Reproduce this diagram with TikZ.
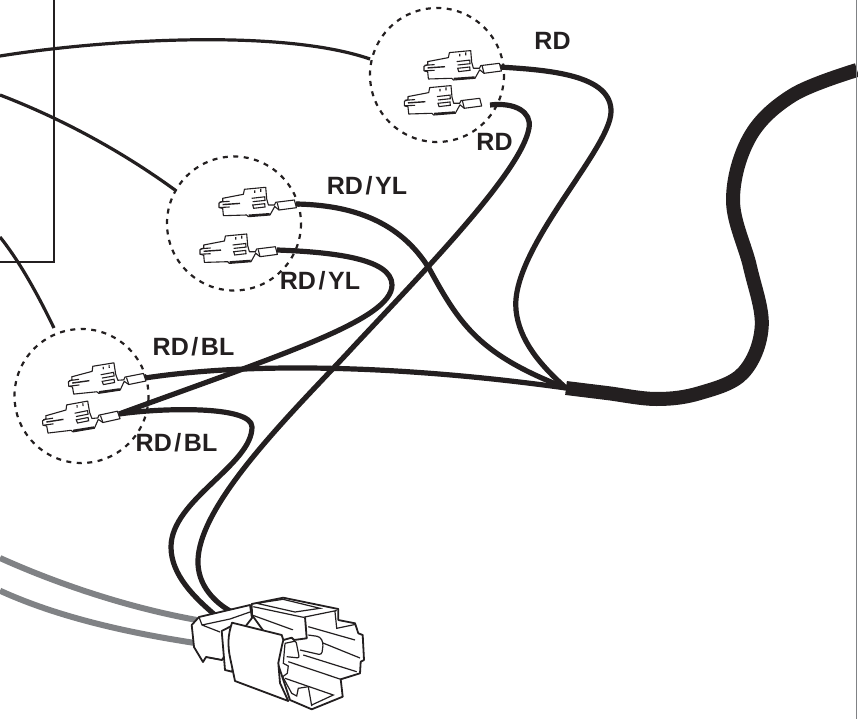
\documentclass[tikz,border=0pt]{standalone}
\usepackage{fontspec}
\setmainfont{Liberation Sans}
\definecolor{ink}{HTML}{231F20}
\definecolor{greywire}{HTML}{808285}
\newcommand\lblslash{\kern2.6pt/\kern2.6pt}
\tikzset{
  wire/.style={draw=ink, line width=5.2pt, line cap=butt},
  leader/.style={draw=ink, line width=3.2pt},
  greyline/.style={draw=greywire, line width=6pt},
  zoomring/.style={draw=ink, line width=2.2pt, dash pattern=on 5pt off 5.5pt},
  label/.style={font=\bfseries\fontsize{25}{27}\selectfont, text=ink, inner sep=0pt},
  body/.style={draw=ink, line width=1.8pt, fill=white, line join=round},
  detail/.style={draw=ink, line width=1.2pt},
  terminal/.pic={
    \draw[ink, line width=1.1pt, fill=white, line join=round]
      (-74,-5.7) -- (-53.3,-9.7) -- (-52.3,-14.7) -- (-31,-16.7) -- (-30,-5) -- (-28.3,1) -- (-22.3,1)
      -- (-21,-1.7) -- (-2.3,-4) -- (-.3,3.7) -- (-17.7,6) -- (-22,2.5) -- (-26.7,11) -- (-48.3,12.7)
      -- (-50,11) -- (-73.3,11.7) -- (-74,4.5) -- (-77.7,3.5) -- (-77.7,-1) -- (-74,-2.7) -- cycle;
    \draw[ink, line width=1.1pt] (-45,-5.7) -- (-32,-7.2) -- (-31.7,-3.6) -- (-44,-2.3);
    \draw[ink, line width=1.1pt] (-44,1) -- (-32,-.3) -- (-31.7,3) -- (-43,4.3) -- cycle;
    \draw[ink, line width=1.1pt] (-77,-2) -- (-67,-2.7) (-77,3.5) -- (-67,3);
    \draw[ink, line width=1.4pt] (-74,.6) -- (-56.7,-.6);
    \draw[ink, line width=2pt] (-48,11.5) -- (-27,10);
    \draw[ink, line width=1.1pt] (-17.7,6) -- (-19.5,-1.2) (-42,-11) -- (-42,-13.5) (-36,-12) -- (-36,-15);
  }
}

\begin{document}
\begin{tikzpicture}[x=1pt, y=-1pt]
  \useasboundingbox (0,0) rectangle (858,719);

  % thin frame and page edge
  \draw[ink, line width=1.4pt] (0,262) -- (54,262) -- (54,0);

  % leaders to the rings
  \draw[leader] (0,56) .. controls (100,40) and (280,28) .. (370,59);
  \draw[leader] (0,95) .. controls (60,118) and (120,150) .. (175,190);
  \draw[leader] (0,237) .. controls (20,262) and (38,295) .. (54,328);

  % grey pair
  \draw[greyline] (0,558) .. controls (60,585) and (130,608) .. (197,620);
  \draw[greyline] (0,590.7) .. controls (60,618) and (130,633) .. (195,643);

  % rings
  \draw[zoomring] (437,75) circle (67);
  \draw[zoomring] (234,223.5) circle (67);
  \draw[zoomring] (81.5,396) circle (67);

  % crimp points
  \coordinate (rdA) at (499,67);
  \coordinate (rdB) at (490,105);
  \coordinate (ylA) at (296,204);
  \coordinate (ylB) at (277,250);
  \coordinate (blA) at (145,378);
  \coordinate (blB) at (119,414);
  \coordinate (merge) at (566,388);

  % wires
  \draw[wire] (rdA) .. controls (550,70) and (612,75) .. (611,112) .. controls (610,150) and (510,250) .. (516,310) .. controls (519,340) and (540,365) .. (merge);
  \draw[wire] (ylA) .. controls (350,205) and (400,220) .. (430,270) .. controls (460,325) and (480,355) .. (merge);
  \draw[wire] (blA) .. controls (250,362) and (400,365) .. (merge);
  \draw[wire] (ylB) .. controls (330,252) and (392,258) .. (392,285) .. controls (392,320) and (280,355) .. (blB);
  \draw[wire] (rdB) .. controls (515,102) and (532,112) .. (529,128) .. controls (522,170) and (430,265) .. (355,345) .. controls (300,405) and (200,500) .. (198,560) .. controls (197,585) and (215,603) .. (232,612);
  \draw[wire] (blB) .. controls (160,408) and (252,405) .. (252,427) .. controls (252,465) and (171,500) .. (171,547) .. controls (171,575) and (195,598) .. (215,615);

  % harness
  \draw[draw=ink, line width=14pt] plot[smooth, tension=.6] coordinates {(merge) (606.7,393) (656.7,399) (700,393) (743,373) (761.7,326.7) (750,266.7) (733,200) (750,136.7) (793,95) (857,70)};
  % page edge
  \draw[greywire, line width=1.5pt] (856.7,0) -- (856.7,719);

  % terminals
  \pic at (501.7,67.3) {terminal};
  \pic at (482,102.3) {terminal};
  \pic at (296.7,204) {terminal};
  \pic at (277.7,250.7) {terminal};
  \pic[rotate=4] at (146,377.3) {terminal};
  \pic[rotate=5] at (120,415) {terminal};

  % plug
  \draw[body] (199,617) -- (250,605) -- (252,618) -- (235,640) -- (222,660) -- (206,657) -- (203,662) -- (194,647) -- (191.7,625) -- cycle;
  \draw[detail] (199,617) -- (202,625) -- (220,632) (202,625) -- (230,619) -- (250,612) (206,657) -- (222,660);
  \draw[body] (251.7,604) -- (283.3,597.7) -- (338.3,609) -- (338.3,620) -- (355,623.3) -- (358.3,633.3) -- (362.7,635) -- (364,660) -- (360.7,661.7) -- (360,673.3) -- (340.7,679.3) -- (342.7,696.7) -- (311.7,709.3) -- (290,700) -- (270,640) -- (252,615) -- cycle;
  \draw[detail] (256.7,603.3) -- (283,599.3) -- (320,608.3) -- (295,612) -- cycle;
  \draw[detail] (253.3,606.7) -- (303.3,617.3) -- (336.7,610.5) (335,611.7) -- (336.7,628.3) -- (355,624.5);
  \draw[detail] (305,617.3) -- (306.7,638.3) (308.3,626.7) -- (355,640);
  \draw[detail, rounded corners=3pt] (308.3,635) -- (320,636.7) -- (323.3,643) -- (321.7,655) -- (300,650);
  \draw[detail] (323,643) -- (360,658) (303.3,655) -- (356.7,671.7) (288.3,661.7) -- (340.7,679.3);
  \draw[detail] (285,678.3) -- (333.3,695) -- (311.7,705) (308.3,686.7) -- (311.7,706);
  \draw[body] (221.7,631) -- (233.3,625) -- (238,650) -- (232,671.7) -- (225,670) -- cycle;
  \draw[body] (232,622.7) -- (281.7,635) -- (283.3,640) -- (281.7,646.7) -- (278.3,663) -- (280,683) -- (288.3,701) -- (235,681) -- (231,662) .. controls (227,645) and (228,635) .. cycle;
  \draw[detail] (252,615) -- (293.3,630) -- (294,640);
  \draw[body] (283.3,640) -- (291.7,637.7) -- (294,640) -- (306.7,638.3) -- (305,617.3);
  \draw[detail] (285,643.3) -- (283.3,663.3) -- (288.3,666) -- (287.3,673.3) -- (282.7,676.7) -- (291.7,693.3) -- (296.7,696) -- (298.3,688.3) -- (308.3,686.7);
  \draw[detail, rounded corners=2pt] (285,643.3) -- (296,641) -- (299.3,658) -- (286.7,656.7);

  % labels
  \node[label] (lblRdA) at (552.5,41) {RD};
  \node[label] (lblRdB) at (494.5,142) {RD};
  \node[label] (lblYlA) at (367,185.5) {RD\lblslash YL};
  \node[label] (lblYlB) at (320,281) {RD\lblslash YL};
  \node[label] (lblBlA) at (193.5,346.5) {RD\lblslash BL};
  \node[label] (lblBlB) at (176.5,443) {RD\lblslash BL};
\end{tikzpicture}
\end{document}
